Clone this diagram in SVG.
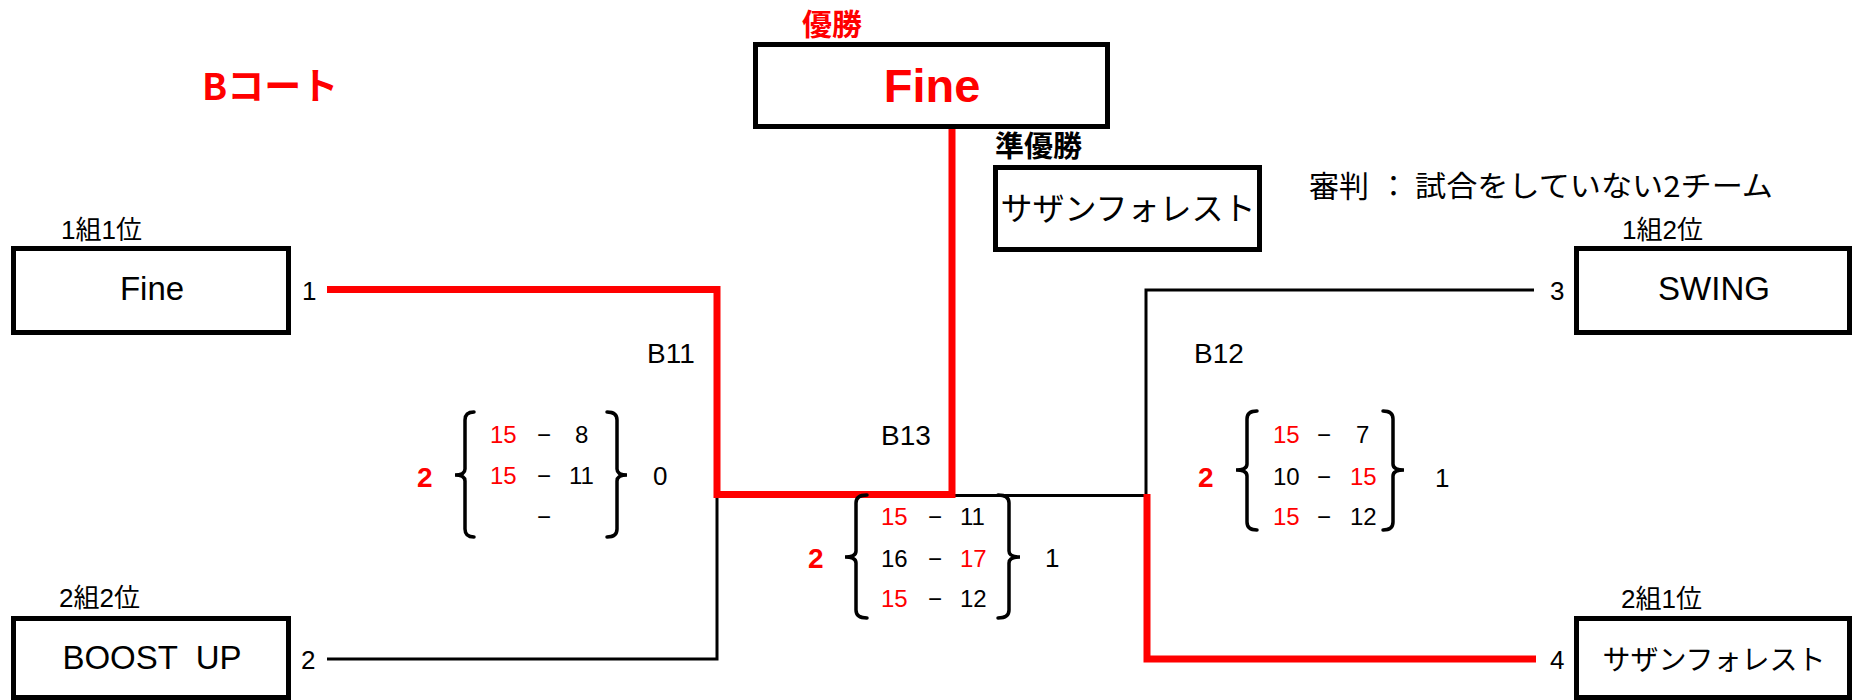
<svg xmlns="http://www.w3.org/2000/svg" width="1853" height="700" viewBox="0 0 1853 700">
<style>
.box{fill:#fff;stroke:#000;stroke-width:5}
.t{font-family:"Liberation Sans","Noto Sans CJK JP",sans-serif;fill:#000}
.j{font-family:"Noto Sans CJK JP","Liberation Sans",sans-serif;fill:#000}
.red{fill:#f00}
.b{font-weight:bold}
.team{font-size:33px;text-anchor:middle;white-space:pre}
.seed{font-size:26px}
.num{font-size:26px}
.sc{font-size:24px}
.lbl{font-size:28px}
.win{font-size:28px;font-weight:bold}
.brace{fill:none;stroke:#000;stroke-width:3.5;stroke-linecap:round}
.rl{fill:none;stroke:#f00;stroke-width:7}
.bl{fill:none;stroke:#000;stroke-width:3}
</style>
<rect width="1853" height="700" fill="#fff"/>

<g id="title">
<text class="j b red" x="202" y="100" font-size="37">Bコート</text>
</g>

<g id="connectors">
<path class="bl" d="M717,494.5 V659 H327"/>
<path class="bl" d="M952,495.5 H1146 V290 H1534"/>
<path class="rl" d="M327,289.5 H717 V494.5 H952 V127"/>
<path class="rl" d="M1147,494 V659 H1536"/>
</g>

<g id="winner">
<text class="j b red" x="802" y="35" font-size="30">優勝</text>
<rect class="box" x="755.5" y="44.5" width="352" height="82"/>
<text class="t b red" x="932" y="102" font-size="47" text-anchor="middle">Fine</text>
</g>

<g id="runner-up">
<text class="j b" x="995" y="157" font-size="29">準優勝</text>
<rect class="box" x="995.5" y="167.5" width="264" height="82"/>
<text class="j" x="1128" y="220" font-size="32" text-anchor="middle">サザンフォレスト</text>
</g>

<g id="referee">
<text class="j" x="1309" y="197" font-size="30">審判</text>
<text class="j" x="1379" y="197" font-size="29">：</text>
<text class="j" x="1415" y="197" font-size="29" textLength="358" lengthAdjust="spacingAndGlyphs">試合をしていない2チーム</text>
</g>

<g id="team-fine">
<text class="t seed" x="61" y="239">1組1位</text>
<rect class="box" x="13.5" y="248.5" width="275" height="84"/>
<text class="t team" x="152" y="300">Fine</text>
<text class="t num" x="302" y="300">1</text>
</g>

<g id="team-boostup">
<text class="t seed" x="59" y="607">2組2位</text>
<rect class="box" x="13.5" y="618.5" width="275" height="79"/>
<text class="t team" x="152" y="669" xml:space="preserve">BOOST  UP</text>
<text class="t num" x="301" y="669">2</text>
</g>

<g id="team-swing">
<text class="t seed" x="1622" y="239">1組2位</text>
<rect class="box" x="1576.5" y="248.5" width="273" height="84"/>
<text class="t team" x="1714" y="300">SWING</text>
<text class="t num" x="1550" y="300">3</text>
</g>

<g id="team-southern">
<text class="t seed" x="1621" y="608">2組1位</text>
<rect class="box" x="1576.5" y="618.5" width="273" height="79"/>
<text class="j" x="1714" y="670" font-size="28" text-anchor="middle">サザンフォレスト</text>
<text class="t num" x="1550" y="669">4</text>
</g>

<g id="match-B11">
<text class="t lbl" x="647" y="363">B11</text>
<text class="t win red" x="417" y="487">2</text>
<path class="brace" d="M474,412 Q465,412 465,420 V469 Q465,475 455,475 Q465,475 465,481 V529 Q465,537 474,537"/>
<path class="brace" d="M607,412 Q617,412 617,420 V469 Q617,475 627,475 Q617,475 617,481 V529 Q617,537 607,537"/>
<text class="t sc red" x="490" y="443">15</text><text class="t sc" x="537" y="443">−</text><text class="t sc" x="575" y="443">8</text>
<text class="t sc red" x="490" y="484">15</text><text class="t sc" x="537" y="484">−</text><text class="t sc" x="569" y="484">11</text>
<text class="t sc" x="537" y="525">−</text>
<text class="t num" x="653" y="485">0</text>
</g>

<g id="match-B12">
<text class="t lbl" x="1194" y="363">B12</text>
<text class="t win red" x="1198" y="487">2</text>
<path class="brace" d="M1257,411 Q1247,411 1247,419 V464 Q1247,470 1236,470 Q1247,470 1247,476 V522 Q1247,530 1257,530"/>
<path class="brace" d="M1383,411 Q1393,411 1393,419 V464 Q1393,470 1404,470 Q1393,470 1393,476 V522 Q1393,530 1383,530"/>
<text class="t sc red" x="1273" y="443">15</text><text class="t sc" x="1317" y="443">−</text><text class="t sc" x="1356" y="443">7</text>
<text class="t sc" x="1273" y="485">10</text><text class="t sc" x="1317" y="485">−</text><text class="t sc red" x="1350" y="485">15</text>
<text class="t sc red" x="1273" y="525">15</text><text class="t sc" x="1317" y="525">−</text><text class="t sc" x="1350" y="525">12</text>
<text class="t num" x="1435" y="487">1</text>
</g>

<g id="match-B13">
<text class="t lbl" x="881" y="445">B13</text>
<text class="t win red" x="808" y="568">2</text>
<path class="brace" d="M867,495 Q856,495 856,503 V551 Q856,557 845,557 Q856,557 856,563 V610 Q856,618 867,618"/>
<path class="brace" d="M998,495 Q1009,495 1009,503 V551 Q1009,557 1020,557 Q1009,557 1009,563 V610 Q1009,618 998,618"/>
<text class="t sc red" x="881" y="525">15</text><text class="t sc" x="928" y="525">−</text><text class="t sc" x="960" y="525">11</text>
<text class="t sc" x="881" y="567">16</text><text class="t sc" x="928" y="567">−</text><text class="t sc red" x="960" y="567">17</text>
<text class="t sc red" x="881" y="607">15</text><text class="t sc" x="928" y="607">−</text><text class="t sc" x="960" y="607">12</text>
<text class="t num" x="1045" y="567">1</text>
</g>
</svg>
